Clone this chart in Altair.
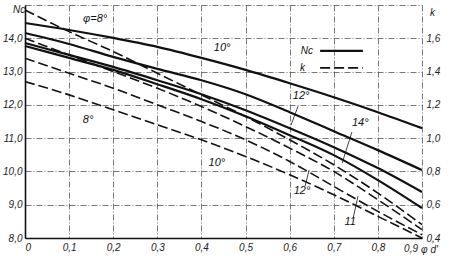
import altair as alt
import pandas as pd

# ---- data ----
x_vals = [0.0, 0.1, 0.2, 0.3, 0.4, 0.5, 0.6, 0.7, 0.8, 0.9]

nc_a = [14.46, 14.25, 14.01, 13.74, 13.41, 13.05, 12.65, 12.23, 11.78, 11.30]
nc_b = [14.16, 13.83, 13.44, 13.08, 12.74, 12.32, 11.78, 11.21, 10.64, 10.04]
nc_c = [13.86, 13.50, 13.14, 12.74, 12.32, 11.84, 11.30, 10.73, 10.10, 9.38]
nc_d = [13.77, 13.41, 13.05, 12.62, 12.17, 11.66, 11.09, 10.49, 9.74, 8.90]

k_a = [1.77, 1.64, 1.52, 1.39, 1.26, 1.13, 0.99, 0.84, 0.67, 0.48]
k_b = [1.60, 1.50, 1.40, 1.30, 1.19, 1.07, 0.94, 0.80, 0.63, 0.45]
k_c = [1.48, 1.39, 1.30, 1.20, 1.10, 0.99, 0.86, 0.71, 0.56, 0.42]
k_d = [1.34, 1.26, 1.17, 1.08, 0.99, 0.89, 0.78, 0.66, 0.53, 0.40]

nc_ticks = [8, 9, 10, 11, 12, 13, 14, 15]
k_ticks = [0.4, 0.6, 0.8, 1.0, 1.2, 1.4, 1.6]
x_ticks = [0.0, 0.1, 0.2, 0.3, 0.4, 0.5, 0.6, 0.7, 0.8, 0.9]

label_text = ["φ=8°", "10°", "12°", "14°", "8°", "10°", "12°", "11"]
label_x = [0.159, 0.447, 0.626, 0.760, 0.143, 0.435, 0.628, 0.737]
label_y = [14.58, 13.71, 12.26, 11.45, 11.54, 10.25, 9.41, 8.48]

leader_x = [0.619, 0.741, 0.635, 0.744]
leader_x2 = [0.603, 0.719, 0.644, 0.755]
leader_y = [11.96, 11.18, 9.56, 8.60]
leader_y2 = [11.39, 10.25, 10.04, 9.26]

legend_names = ["Nc", "k"]
legend_x_text = [0.653, 0.635]
legend_x1 = [0.669, 0.669]
legend_x2 = [0.766, 0.766]
legend_y = [13.62, 13.11]

corner_text = ["Nc", "k", "φ d'"]
corner_x = [-0.027, 0.918, 0.898]
corner_y = [14.85, 14.75, 7.64]

FONT = "Liberation Sans"

rows_nc = []
for name, vals in [("a", nc_a), ("b", nc_b), ("c", nc_c), ("d", nc_d)]:
    for xv, v in zip(x_vals, vals):
        rows_nc.append({"x": xv, "nc": v, "series": name})
nc_df = pd.DataFrame(rows_nc)

rows_k = []
for name, vals in [("a", k_a), ("b", k_b), ("c", k_c), ("d", k_d)]:
    for xv, v in zip(x_vals, vals):
        rows_k.append({"x": xv, "k": v, "series": name})
k_df = pd.DataFrame(rows_k)

lab_df = pd.DataFrame({"t": label_text, "x": label_x, "nc": label_y})
lead_df = pd.DataFrame({"x": leader_x, "x2": leader_x2, "nc": leader_y, "y2": leader_y2})
leg_df = pd.DataFrame({"t": legend_names, "x": legend_x_text, "x1": legend_x1,
                       "x2": legend_x2, "nc": legend_y})
leg_solid = leg_df[leg_df.t == "Nc"]
leg_dash = leg_df[leg_df.t == "k"]
corner_df = pd.DataFrame({"t": corner_text, "x": corner_x, "nc": corner_y})
nine_df = pd.DataFrame({"t": ["0,9"], "x": [0.891], "nc": [7.68]})

xscale = alt.Scale(domain=[0, 0.9], nice=False, zero=False)
ncscale = alt.Scale(domain=[8, 15], nice=False, zero=False)
kscale = alt.Scale(domain=[0.4, 1.8], nice=False, zero=False)

GRID_DASH = [6, 2, 1, 2]

x_axis = alt.Axis(
    values=x_ticks, grid=True, gridDash=GRID_DASH, gridColor="#555", gridWidth=0.8,
    domain=True, domainColor="#111", domainWidth=1.6, ticks=False, title=None,
    labelExpr="datum.value > 0.85 ? '' : (datum.value == 0 ? '0' : replace(format(datum.value, '.1f'), '.', ','))",
    labelFont=FONT, labelFontStyle="italic", labelFontSize=10, labelColor="#222",
    labelPadding=4,
)

nc_axis = alt.Axis(
    orient="left", values=nc_ticks, grid=True, gridDash=GRID_DASH, gridColor="#555",
    gridWidth=0.8, domain=True, domainColor="#111", domainWidth=1.6, ticks=False,
    title=None,
    labelExpr="datum.value == 15 ? '' : replace(format(datum.value, '.1f'), '.', ',')",
    labelFont=FONT, labelFontStyle="italic", labelFontSize=10, labelColor="#222",
    labelPadding=3,
)

k_axis = alt.Axis(
    orient="right", values=k_ticks, grid=False, domain=False, ticks=False, title=None,
    labelExpr="replace(format(datum.value, '.1f'), '.', ',')",
    labelFont=FONT, labelFontStyle="italic", labelFontSize=10, labelColor="#222",
    labelPadding=4,
)

X = alt.X("x:Q", scale=xscale, axis=x_axis)
Y = alt.Y("nc:Q", scale=ncscale, axis=nc_axis)

solid = alt.Chart(nc_df).mark_line(color="#111", strokeWidth=2.2,
                                   interpolate="monotone").encode(
    x=X, y=Y, detail="series:N",
)

labels = alt.Chart(lab_df).mark_text(
    font=FONT, fontStyle="italic", fontSize=11, color="#111"
).encode(x=X, y=Y, text="t:N")

leaders = alt.Chart(lead_df).mark_rule(color="#111", strokeWidth=0.8).encode(
    x=X, x2="x2:Q", y=Y, y2="y2:Q",
)

leg_text = alt.Chart(leg_df).mark_text(
    font=FONT, fontStyle="italic", fontSize=10, color="#111", align="right"
).encode(x=X, y=Y, text="t:N")

leg_line1 = alt.Chart(leg_solid).mark_rule(color="#111", strokeWidth=2.2).encode(
    x=alt.X("x1:Q", scale=xscale, axis=x_axis), x2="x2:Q", y=Y,
)
leg_line2 = alt.Chart(leg_dash).mark_rule(color="#111", strokeWidth=1.6,
                                          strokeDash=[10, 4]).encode(
    x=alt.X("x1:Q", scale=xscale, axis=x_axis), x2="x2:Q", y=Y,
)

corner = alt.Chart(corner_df).mark_text(
    font=FONT, fontStyle="italic", fontSize=10, color="#222", align="left"
).encode(x=X, y=Y, text="t:N")

nine = alt.Chart(nine_df).mark_text(
    font=FONT, fontStyle="italic", fontSize=10, color="#222", align="right"
).encode(x=X, y=Y, text="t:N")

nc_group = alt.layer(solid, labels, leaders, leg_text, leg_line1, leg_line2, corner, nine)

dashed = alt.Chart(k_df).mark_line(color="#111", strokeWidth=1.6, strokeDash=[10, 4],
                                   interpolate="monotone").encode(
    x=X,
    y=alt.Y("k:Q", scale=kscale, axis=k_axis),
    detail="series:N",
)

chart = alt.layer(nc_group, dashed).resolve_scale(y="independent").properties(
    width=397, height=233,
    autosize=alt.AutoSizeParams(type="none"),
    padding={"left": 25, "top": 5, "right": 29, "bottom": 24},
    background="white",
).configure_view(stroke=None)

chart.save("out.html", embed_options={"renderer": "svg", "actions": False})
